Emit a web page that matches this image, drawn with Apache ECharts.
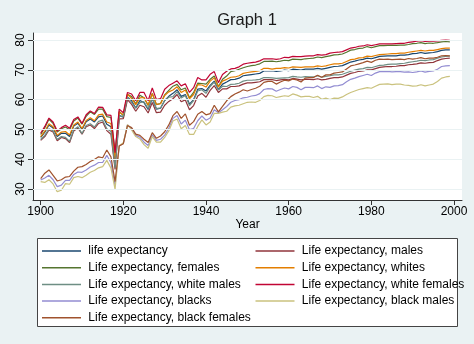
<!DOCTYPE html>
<html><head><meta charset="utf-8">
<script src="https://cdn.jsdelivr.net/npm/echarts@6/dist/echarts.min.js"></script>
<style>html,body{margin:0;padding:0;background:#eaf2f3}#c{width:474px;height:344px}</style>
</head><body><div id="c"></div>
<script>
const years = [1900,1901,1902,1903,1904,1905,1906,1907,1908,1909,
1910,1911,1912,1913,1914,1915,1916,1917,1918,1919,
1920,1921,1922,1923,1924,1925,1926,1927,1928,1929,
1930,1931,1932,1933,1934,1935,1936,1937,1938,1939,
1940,1941,1942,1943,1944,1945,1946,1947,1948,1949,
1950,1951,1952,1953,1954,1955,1956,1957,1958,1959,
1960,1961,1962,1963,1964,1965,1966,1967,1968,1969,
1970,1971,1972,1973,1974,1975,1976,1977,1978,1979,
1980,1981,1982,1983,1984,1985,1986,1987,1988,1989,
1990,1991,1992,1993,1994,1995,1996,1997,1998,1999];

const le = [47.3,49.1,51.5,50.5,47.6,48.7,48.7,47.6,51.1,52.1,
50.0,52.6,53.5,52.5,54.2,54.5,51.7,50.9,39.1,54.7,
54.1,60.8,59.6,57.2,59.7,59.0,56.7,60.4,56.8,57.1,
59.7,61.1,62.1,63.3,61.1,61.7,58.5,60.0,63.5,63.7,
62.9,64.8,66.2,63.3,65.2,65.9,66.7,66.8,67.2,68.0,
68.2,68.4,68.6,68.8,69.6,69.6,69.7,69.5,69.6,69.9,
69.7,70.2,70.1,69.9,70.2,70.2,70.2,70.5,70.2,70.5,
70.8,71.1,71.2,71.4,72.0,72.6,72.9,73.3,73.5,73.9,
73.7,74.1,74.5,74.6,74.7,74.7,74.7,74.9,74.9,75.1,
75.4,75.5,75.8,75.5,75.7,75.8,76.1,76.5,76.7,76.7];

const leMale = [46.3,47.6,49.8,49.1,46.2,47.3,46.9,45.6,49.5,50.5,
48.4,50.9,51.5,50.3,52.0,52.5,49.6,48.4,36.6,53.5,
53.6,60.0,58.4,56.1,58.1,57.6,55.5,59.0,55.6,55.8,
58.1,59.4,60.3,61.7,59.3,59.9,56.6,58.0,61.2,62.1,
60.8,63.1,64.7,62.4,63.6,63.6,64.4,64.4,64.6,65.2,
65.6,65.6,65.8,66.0,66.7,66.7,66.7,66.4,66.6,66.8,
66.6,67.1,66.9,66.6,66.8,66.8,66.7,67.0,66.6,66.8,
67.1,67.4,67.4,67.6,68.2,68.8,69.1,69.5,69.6,70.0,
70.0,70.4,70.8,71.0,71.1,71.1,71.2,71.4,71.4,71.7,
71.8,72.0,72.3,72.2,72.4,72.5,73.1,73.6,73.8,73.9];

const leFemale = [48.3,50.6,53.4,52.0,49.1,50.2,50.8,49.9,52.8,53.8,
51.8,54.4,55.9,55.0,56.8,56.8,54.3,54.0,42.2,56.0,
54.6,61.8,61.0,58.5,61.5,60.6,58.0,62.1,58.3,58.7,
61.6,63.1,64.5,65.1,63.3,63.9,60.6,62.4,65.5,65.4,
65.2,66.8,67.9,64.4,66.8,67.9,69.4,69.7,70.2,70.7,
71.1,71.4,71.6,72.0,72.8,72.8,72.9,72.7,72.9,73.2,
73.1,73.6,73.5,73.4,73.7,73.8,73.9,74.3,74.1,74.4,
74.7,75.0,75.1,75.3,75.9,76.6,76.8,77.2,77.3,77.8,
77.4,77.8,78.1,78.1,78.2,78.2,78.2,78.3,78.3,78.5,
78.8,78.9,79.1,78.8,79.0,78.9,79.1,79.4,79.5,79.4];

const leWhite = [47.6,49.4,51.9,50.9,48.0,49.1,49.3,48.1,51.5,52.5,
50.3,53.0,53.9,52.9,54.9,55.1,52.5,52.0,39.8,55.8,
54.9,61.8,60.4,58.3,60.6,60.7,58.2,62.0,58.4,58.6,
61.4,62.6,63.2,64.3,62.4,63.2,60.3,61.7,65.0,64.9,
64.2,66.2,67.3,64.2,66.2,66.8,67.5,67.6,68.0,68.8,
69.1,69.3,69.5,69.7,70.5,70.5,70.2,70.5,70.5,70.7,
70.6,71.0,70.9,70.8,71.0,71.0,71.0,71.3,71.1,71.3,
71.7,72.0,72.0,72.2,72.8,73.4,73.6,74.0,74.1,74.6,
74.4,74.8,75.1,75.2,75.3,75.4,75.4,75.6,75.6,75.9,
76.1,76.3,76.5,76.3,76.5,76.5,76.8,77.1,77.3,77.3];

const leWhiteMale = [46.6,48.0,50.2,49.5,46.6,47.6,47.3,46.0,49.9,50.9,
48.6,51.3,51.9,50.8,52.7,53.1,50.2,49.3,37.1,54.5,
54.4,60.8,59.1,57.1,59.0,59.3,57.0,60.5,57.0,57.2,
59.7,60.8,61.0,62.7,60.5,61.4,58.0,59.7,62.9,63.3,
62.1,64.4,65.9,63.2,64.5,64.4,65.1,65.2,65.5,66.2,
66.5,66.5,66.6,66.8,67.4,67.4,67.3,67.1,67.2,67.3,
67.4,67.8,67.6,67.5,67.7,67.6,67.6,68.0,67.5,67.8,
68.0,68.3,68.3,68.5,69.0,69.5,69.9,70.2,70.4,70.8,
70.7,71.1,71.5,71.6,71.8,71.9,71.9,72.1,72.2,72.5,
72.7,72.9,73.2,73.1,73.3,73.4,73.9,74.3,74.5,74.6];

const leWhiteFemale = [48.7,51.0,53.8,52.5,49.5,50.6,51.4,50.4,53.3,54.2,
52.0,54.9,56.2,55.3,57.5,57.4,54.9,54.7,42.2,56.8,
55.6,62.4,61.9,59.6,62.4,62.4,59.6,63.9,60.0,60.3,
63.5,64.7,65.5,66.3,64.6,65.3,62.4,64.0,67.4,66.6,
66.6,68.5,69.4,65.7,68.4,69.5,70.3,70.5,71.0,71.9,
72.2,72.4,72.6,73.0,73.7,73.7,73.7,73.5,73.7,74.2,
74.1,74.5,74.4,74.4,74.6,74.7,74.7,75.1,74.9,75.1,
75.6,75.8,75.9,76.1,76.7,77.3,77.5,77.9,78.0,78.4,
78.1,78.4,78.7,78.7,78.7,78.7,78.8,78.9,78.9,79.2,
79.4,79.6,79.8,79.5,79.6,79.6,79.7,79.9,80.0,79.9];

const leBlack = [33.0,33.7,34.6,33.1,30.8,31.3,32.9,32.9,34.9,35.7,
35.6,36.4,37.4,38.0,38.9,38.9,41.3,38.8,31.1,44.5,
45.3,51.5,50.2,48.0,47.4,45.7,44.6,48.2,46.3,46.7,
48.1,50.4,53.7,54.7,51.8,53.1,49.9,50.3,52.9,54.5,
53.1,53.8,56.6,55.6,56.6,57.7,59.1,59.7,60.0,60.6,
60.8,61.2,61.4,62.0,63.4,63.7,63.6,62.8,63.4,63.9,
63.6,64.4,64.1,63.3,64.1,64.1,64.0,64.6,63.7,64.3,
64.1,64.6,64.7,65.0,66.0,66.8,67.2,67.7,68.1,68.5,
68.1,68.9,69.4,69.4,69.5,69.3,69.4,69.4,69.2,69.3,
69.1,69.3,69.6,69.2,69.5,69.6,70.2,71.1,71.3,71.4];

const leBlackMale = [32.5,32.2,33.1,31.7,29.1,29.6,31.8,31.6,33.8,34.2,
33.8,34.6,35.6,36.2,37.1,37.5,39.6,37.0,29.9,44.5,
45.5,51.6,49.8,47.6,46.8,44.9,43.7,47.6,45.7,45.7,
47.3,49.5,52.8,53.5,50.2,51.3,48.3,48.3,51.0,53.2,
51.5,52.5,55.4,55.4,55.8,56.1,57.5,57.9,58.1,58.6,
59.1,59.2,59.1,59.7,61.0,61.4,61.3,60.7,61.0,61.3,
61.1,61.9,61.5,60.9,61.1,61.1,60.7,61.1,60.1,60.5,
60.0,60.5,60.4,60.9,61.7,62.4,62.9,63.4,63.7,64.0,
63.8,64.5,65.1,65.2,65.3,65.0,65.2,65.2,64.9,64.8,
64.5,64.6,65.0,64.6,64.9,65.2,66.1,67.2,67.6,67.8];

const leBlackFemale = [33.5,35.3,36.4,34.6,32.7,33.1,34.0,34.2,36.0,37.3,
37.5,38.2,39.2,39.9,40.8,40.5,43.1,40.8,32.5,44.4,
45.2,51.3,50.6,48.4,48.0,46.7,45.6,48.9,47.0,47.8,
49.2,51.5,54.6,56.0,53.7,55.2,51.4,52.6,55.1,56.0,
54.9,55.3,58.1,55.9,57.7,59.6,61.0,61.9,62.5,63.3,
62.9,63.4,63.8,64.5,65.8,66.1,66.1,65.2,65.9,66.5,
66.3,66.9,66.6,65.9,67.2,67.4,67.4,68.2,67.5,68.3,
68.3,68.9,69.1,69.3,70.3,71.3,71.6,72.0,72.4,72.9,
72.5,73.2,73.6,73.5,73.6,73.4,73.5,73.6,73.4,73.8,
73.6,73.8,74.1,73.7,73.9,73.9,74.2,74.7,74.8,74.7];

const seriesNames = ['life expectancy','Life expectancy, males','Life expectancy, females',
  'Life expectancy, whites','Life expectancy, white males','Life expectancy, white females',
  'Life expectancy, blacks','Life expectancy, black males','Life expectancy, black females'];
const seriesValues = [le, leMale, leFemale, leWhite, leWhiteMale, leWhiteFemale, leBlack, leBlackMale, leBlackFemale];
const seriesColors = ['#1a476f','#90353b','#55752f','#e37e00','#6e8e84','#c10534','#938dd2','#cac27e','#a0522d'];
const xTicks = [1900,1920,1940,1960,1980,2000];
const yTicks = [30,40,50,60,70,80];

const FONT = "'Liberation Sans', Arial, sans-serif";
const chart = echarts.init(document.getElementById('c'), null, {renderer:'canvas'});

const series = [{
  type:'line', name:'_grid', data:[], z:1, silent:true,
  markLine:{silent:true, symbol:['none','none'], label:{show:false}, animation:false,
    lineStyle:{color:'#eaf2f3', width:1, type:'solid'},
    data: yTicks.map(v => ({yAxis:v}))}
}];
seriesNames.forEach((n,i) => {
  series.push({
    type:'line', name:n, showSymbol:false, symbol:'none', z:3,
    lineStyle:{width:1.2, color:seriesColors[i]}, itemStyle:{color:seriesColors[i]},
    data: years.map((y,k) => [y, seriesValues[i][k]]),
    animation:false
  });
});

const legendCommon = {
  orient:'vertical', icon:'rect', itemWidth:39, itemHeight:1.5, itemGap:2.7,
  padding:0, z:5, selectedMode:false,
  textStyle:{fontFamily:FONT, fontSize:12, color:'#000', lineHeight:14, padding:[0,0,0,2.3]}
};

chart.setOption({
  backgroundColor:'#eaf2f3',
  animation:false,
  title:{text:'Graph 1', left:247, top:12, textAlign:'center', padding:0,
    textStyle:{fontFamily:FONT, fontSize:16.5, fontWeight:'normal', color:'#1a1a1a'}},
  grid:{left:33, right:12, top:33, bottom:144, show:true, backgroundColor:'#ffffff', borderWidth:0},
  xAxis:{type:'value', min:1898.14, max:2001.94,
    name:'Year', nameLocation:'middle', nameGap:18,
    nameTextStyle:{fontFamily:FONT, fontSize:12, color:'#000'},
    axisLine:{show:true, onZero:false, lineStyle:{color:'#333', width:1}},
    axisTick:{show:true, length:5, customValues:xTicks, lineStyle:{color:'#333'}},
    axisLabel:{customValues:xTicks, formatter:v => String(v), margin:6, fontFamily:FONT, fontSize:12, color:'#000'},
    splitLine:{show:false}},
  yAxis:{type:'value', min:26.31, max:82.35,
    axisLine:{show:true, onZero:false, lineStyle:{color:'#333', width:1}},
    axisTick:{show:true, length:5, customValues:yTicks, lineStyle:{color:'#333'}},
    axisLabel:{customValues:yTicks, formatter:v => String(v), rotate:90, margin:6, fontFamily:FONT, fontSize:12, color:'#000'},
    splitLine:{show:false}},
  legend:[
    Object.assign({}, legendCommon, {left:42, top:244, data:[seriesNames[0],seriesNames[2],seriesNames[4],seriesNames[6],seriesNames[8]]}),
    Object.assign({}, legendCommon, {left:255.5, top:244, data:[seriesNames[1],seriesNames[3],seriesNames[5],seriesNames[7]]})
  ],
  graphic:[{type:'rect', z:1, shape:{x:37.5, y:238.5, width:420, height:88},
    style:{fill:'#ffffff', stroke:'#444', lineWidth:1}}],
  series: series
});
</script></body></html>
